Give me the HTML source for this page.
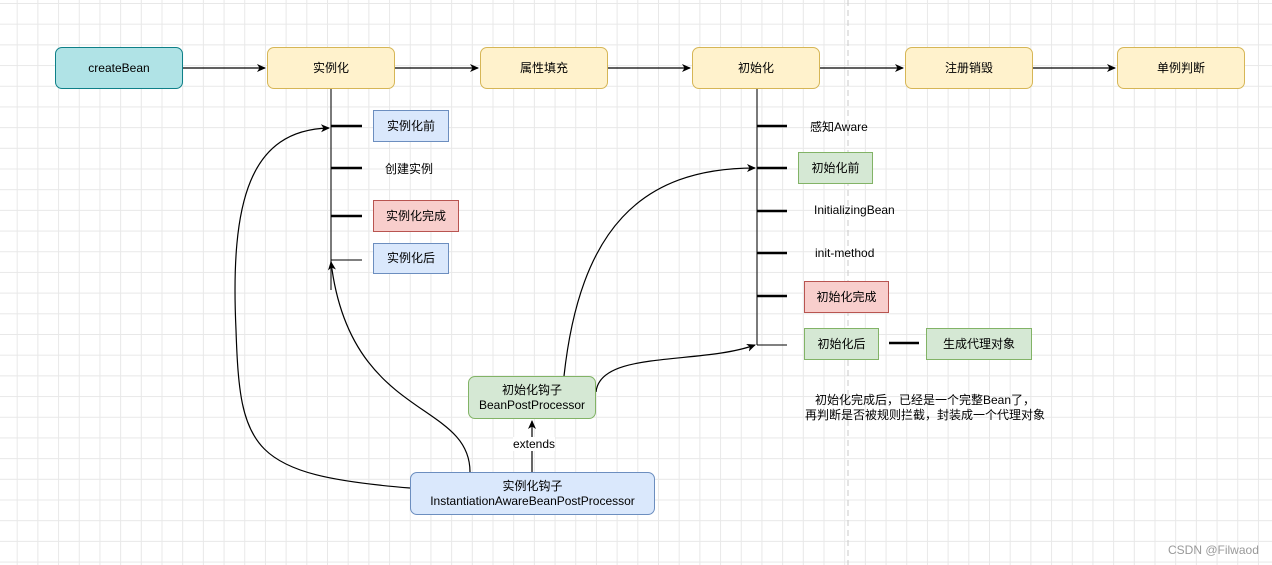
<!DOCTYPE html>
<html><head><meta charset="utf-8"><style>
body{margin:0;width:1272px;height:565px;overflow:hidden;background:#fff;
background-image:linear-gradient(#e8e8e8 1px,transparent 1px),linear-gradient(90deg,#e8e8e8 1px,transparent 1px);background-size:20.7px 20.7px;background-position:-4px 3px;
font-family:"Liberation Sans","Noto Sans CJK SC",sans-serif;font-size:12px;color:#000;position:relative}
.b{position:absolute;box-sizing:border-box;display:flex;align-items:center;justify-content:center;text-align:center;line-height:15px}
.y{background:#fff2cc;border:1px solid #d6b656;border-radius:7px}
.bl{background:#dae8fc;border:1px solid #6c8ebf}
.g{background:#d5e8d4;border:1px solid #82b366}
.r{background:#f8cecc;border:1px solid #b85450}
.t{position:absolute;white-space:nowrap}
</style></head><body>
<svg width="1272" height="565" style="position:absolute;left:0;top:0">
<defs><marker id="a" markerWidth="10" markerHeight="10" refX="8" refY="5" orient="auto" markerUnits="userSpaceOnUse"><path d="M0,1 L9,5 L0,9 L2.5,5z" fill="#000"/></marker></defs>
<line x1="848" y1="0" x2="848" y2="565" stroke="#c8c8c8" stroke-dasharray="6,4"/>
<g stroke="#000" fill="none" stroke-width="1.3">
<line x1="183" y1="68" x2="265" y2="68" marker-end="url(#a)"/>
<line x1="395" y1="68" x2="478" y2="68" marker-end="url(#a)"/>
<line x1="608" y1="68" x2="690" y2="68" marker-end="url(#a)"/>
<line x1="820" y1="68" x2="903" y2="68" marker-end="url(#a)"/>
<line x1="1033" y1="68" x2="1115" y2="68" marker-end="url(#a)"/>
<line x1="331" y1="89" x2="331" y2="290" stroke="#333"/>
<line x1="757" y1="89" x2="757" y2="345" stroke="#333"/>
</g>
<g stroke="#000" stroke-width="2.5">
<line x1="331" y1="126" x2="362" y2="126"/><line x1="331" y1="168" x2="362" y2="168"/><line x1="331" y1="216" x2="362" y2="216"/>
<line x1="757" y1="126" x2="787" y2="126"/><line x1="757" y1="168" x2="787" y2="168"/><line x1="757" y1="211" x2="787" y2="211"/><line x1="757" y1="253" x2="787" y2="253"/><line x1="757" y1="296" x2="787" y2="296"/>
<line x1="889" y1="343" x2="919" y2="343"/>
</g>
<g stroke="#000" stroke-width="1"><line x1="331" y1="260" x2="362" y2="260"/><line x1="757" y1="345" x2="787" y2="345"/></g>
<g stroke="#000" fill="none" stroke-width="1.2">
<path d="M410,488 C250,475 240,450 236,330 C230,200 250,130 329,128" marker-end="url(#a)"/>
<path d="M470,472 C470,400 350,420 331,262" marker-end="url(#a)"/>
<path d="M564,376 C580,230 640,168 755,168" marker-end="url(#a)"/>
<path d="M596,392 C600,350 700,365 755,345" marker-end="url(#a)"/>
<path d="M532,472 L532,421" marker-end="url(#a)"/>
</g>
</svg>
<div class="b" style="left:55px;top:47px;width:128px;height:42px;background:#b0e3e6;border:1px solid #0e8088;border-radius:7px">createBean</div>
<div class="b y" style="left:267px;top:47px;width:128px;height:42px">实例化</div>
<div class="b y" style="left:480px;top:47px;width:128px;height:42px">属性填充</div>
<div class="b y" style="left:692px;top:47px;width:128px;height:42px">初始化</div>
<div class="b y" style="left:905px;top:47px;width:128px;height:42px">注册销毁</div>
<div class="b y" style="left:1117px;top:47px;width:128px;height:42px">单例判断</div>
<div class="b bl" style="left:373px;top:110px;width:76px;height:32px">实例化前</div>
<div class="t" style="left:385px;top:160px">创建实例</div>
<div class="b r" style="left:373px;top:200px;width:86px;height:32px">实例化完成</div>
<div class="b bl" style="left:373px;top:243px;width:76px;height:31px">实例化后</div>
<div class="t" style="left:810px;top:118px">感知Aware</div>
<div class="b g" style="left:798px;top:152px;width:75px;height:32px">初始化前</div>
<div class="t" style="left:814px;top:203px">InitializingBean</div>
<div class="t" style="left:815px;top:246px">init-method</div>
<div class="b r" style="left:804px;top:281px;width:85px;height:32px">初始化完成</div>
<div class="b g" style="left:804px;top:328px;width:75px;height:32px">初始化后</div>
<div class="b g" style="left:926px;top:328px;width:106px;height:32px">生成代理对象</div>
<div class="b" style="left:760px;top:392px;width:330px;height:32px">初始化完成后，已经是一个完整Bean了，<br>再判断是否被规则拦截，封装成一个代理对象</div>
<div class="b g" style="left:468px;top:376px;width:128px;height:43px;border-radius:7px">初始化钩子<br>BeanPostProcessor</div>
<div class="t" style="left:513px;top:437px;background:#fff">extends</div>
<div class="b bl" style="left:410px;top:472px;width:245px;height:43px;border-radius:7px">实例化钩子<br>InstantiationAwareBeanPostProcessor</div>
<div class="t" style="left:1168px;top:543px;color:#999">CSDN @Filwaod</div>
</body></html>
